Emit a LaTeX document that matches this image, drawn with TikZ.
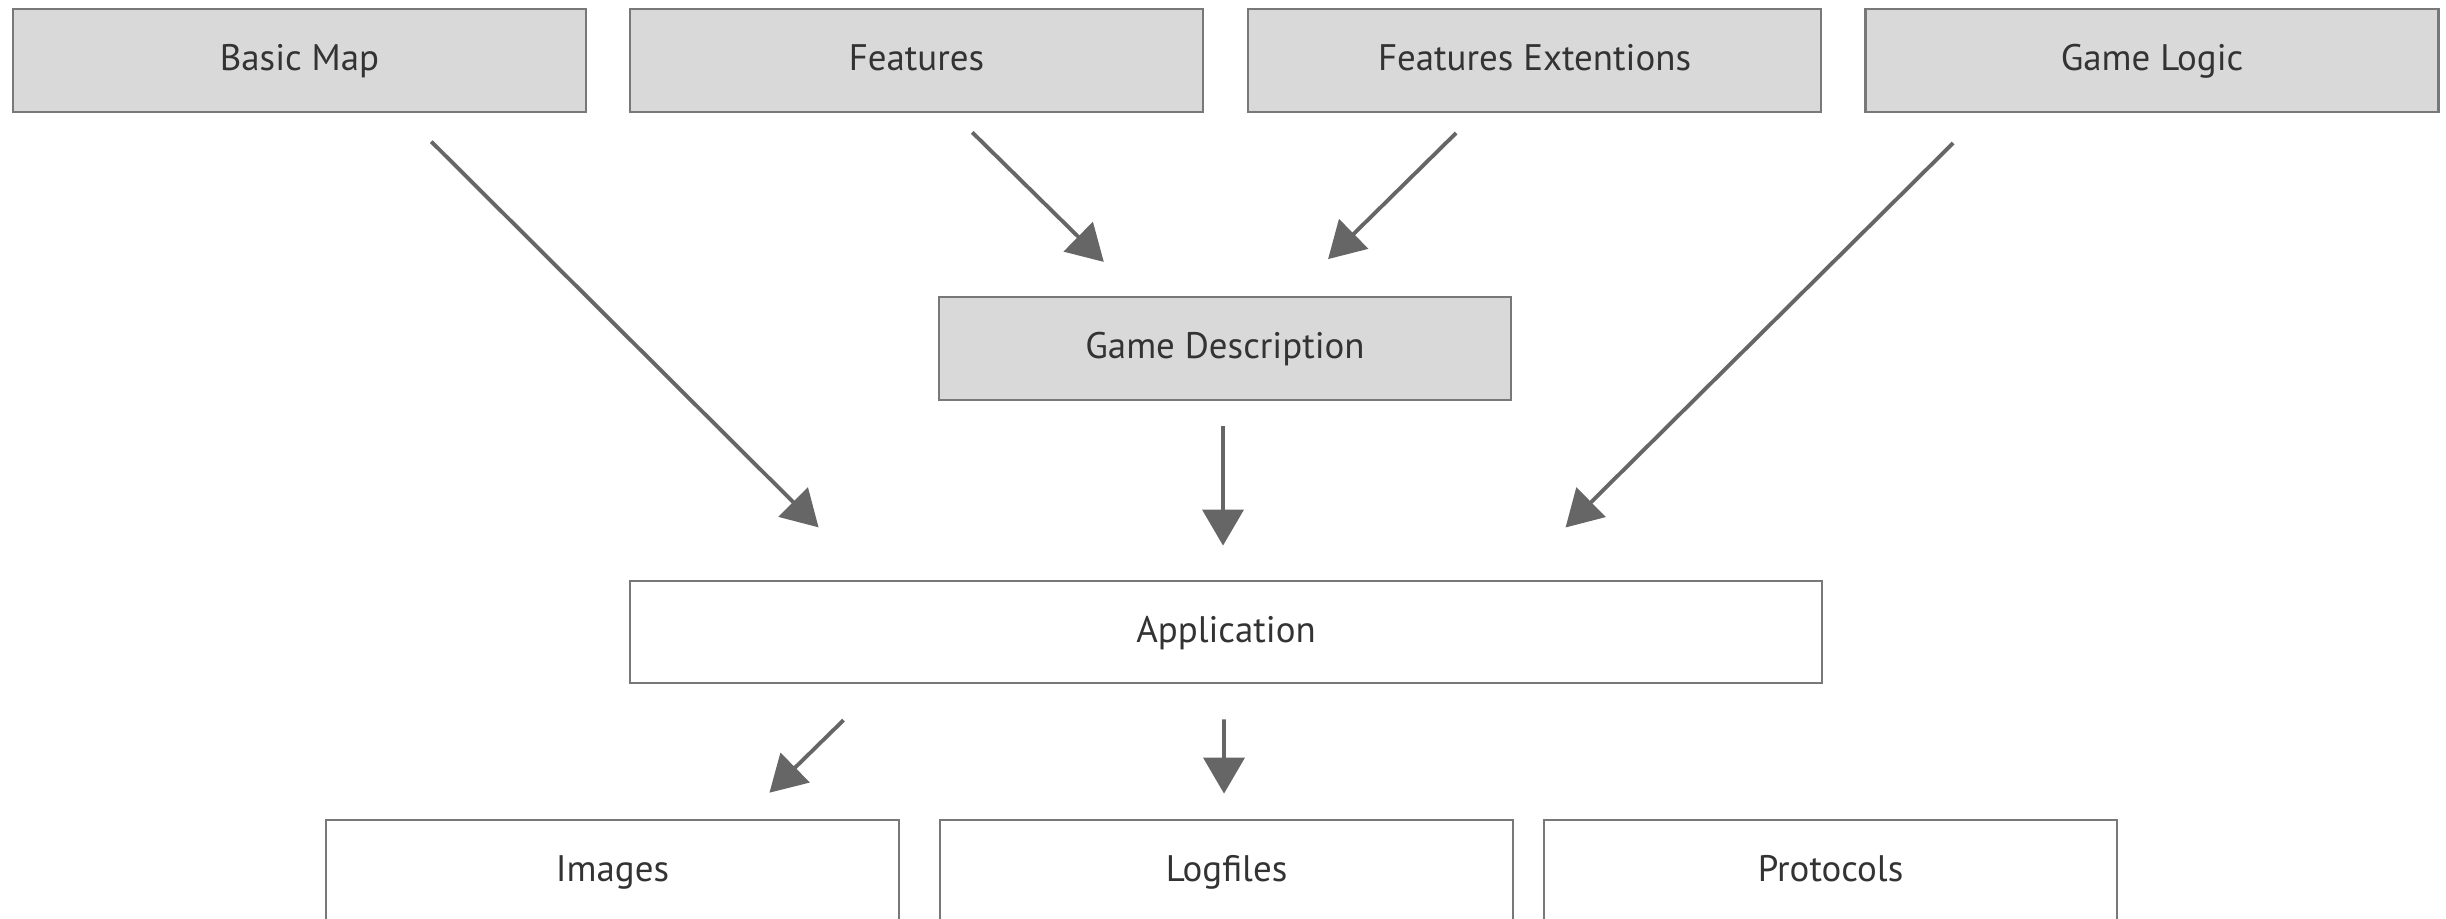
\documentclass[tikz,border=0pt]{standalone}
\usepackage{fontspec}
\setmainfont{PT Sans}
\usetikzlibrary{arrows.meta}
\definecolor{boxgray}{rgb}{.85,.85,.85}
\definecolor{linegray}{rgb}{.47,.47,.47}
\definecolor{arrowgray}{rgb}{.4,.4,.4}
\definecolor{textgray}{rgb}{.2,.2,.2}

\begin{document}
\begin{tikzpicture}[
  box/.style={draw=linegray, line width=.8pt, minimum width=5.73cm, minimum height=1.03cm,
    inner sep=0pt, text height=1.6ex, text depth=.45ex, text=textgray,
    font=\fontsize{10.5}{12}\selectfont},
  greybox/.style={box, fill=boxgray},
  whitebox/.style={box, fill=white},
  arr/.style={draw=arrowgray, line width=1.1pt, -{Triangle[length=.36cm, width=.41cm]}}
]
\useasboundingbox (0,0) rectangle (24.46,-9.18);

\node [greybox] (basic) at (2.995,-.605) {Basic Map};
\node [greybox] (features) at (9.165,-.605) {Features};
\node [greybox] (featext) at (15.345,-.605) {Features Extentions};
\node [greybox] (logic) at (21.52,-.605) {Game Logic};

\node [greybox, minimum width=5.72cm] (gamedesc) at (12.25,-3.485) {Game Description};

\node [whitebox, minimum width=11.92cm, minimum height=1.02cm] (app) at (12.26,-6.32) {Application};

\node [whitebox] (images) at (6.125,-8.715) {Images};
\node [whitebox] (logfiles) at (12.265,-8.715) {Logfiles};
\node [whitebox] (protocols) at (18.305,-8.715) {Protocols};

\draw [arr, shorten <=.4cm, shorten >=.74cm] ([xshift=1.035cm]basic.south) -- ([xshift=-3.55cm]app.north);
\draw [arr, shorten <=.27cm, shorten >=.48cm] ([xshift=.365cm]features.south) -- ([xshift=-.87cm]gamedesc.north);
\draw [arr, shorten <=.28cm, shorten >=.52cm] ([xshift=-.585cm]featext.south) -- ([xshift=.66cm]gamedesc.north);
\draw [arr, shorten <=.42cm, shorten >=.74cm] ([xshift=-1.69cm]logic.south) -- ([xshift=2.87cm]app.north);

\draw [arr, shorten <=.25cm, shorten >=.34cm] ([xshift=-.02cm]gamedesc.south) -- ([xshift=-.03cm]app.north);

\draw [arr, shorten <=.51cm, shorten >=.37cm] ([xshift=-3.46cm]app.south) -- ([xshift=1.305cm]images.north);
\draw [arr, shorten <=.35cm, shorten >=.25cm] ([xshift=-.02cm]app.south) -- ([xshift=-.025cm]logfiles.north);

\end{tikzpicture}
\end{document}
